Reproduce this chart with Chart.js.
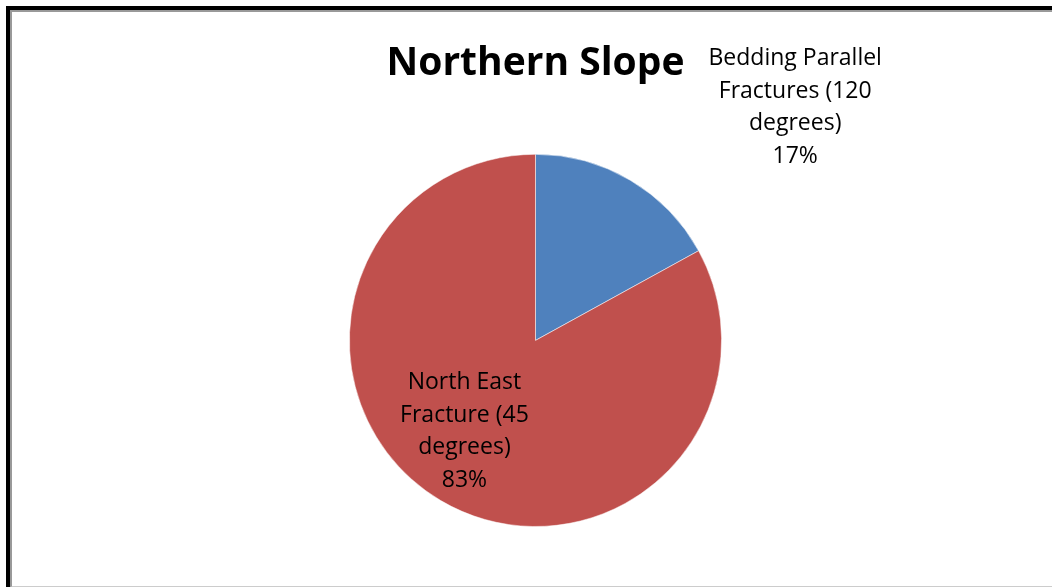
<!DOCTYPE html>
<html>
<head>
<meta charset="utf-8">
<script src="https://cdn.jsdelivr.net/npm/chart.js@4"></script>
<style>
  html, body { margin: 0; padding: 0; background: #fff; }
  #frame { position: absolute; left: 0; top: 0; width: 1052px; height: 587px; overflow: hidden; }
  #outer { position: absolute; left: 6px; top: 6px; right: -10px; bottom: -10px;
           border-left: 4px solid #000; border-top: 4px solid #000; }
  #inner { position: absolute; left: 10px; top: 10px; right: -10px; height: 574px;
           border-left: 2px solid #999; border-top: 2px solid #999; border-bottom: 2px solid #ccc; }
  #chart { position: absolute; left: 0; top: 0; }
</style>
</head>
<body>
<div id="frame">
  <div id="outer"></div>
  <div id="inner"></div>
  <canvas id="chart" width="1052" height="587"></canvas>
</div>
<script>
const chartTitle = 'Northern Slope';
const categories = [
  ['Bedding Parallel', 'Fractures (120', 'degrees)'],
  ['North East', 'Fracture (45', 'degrees)']
];
const percentages = [17, 83];
const sliceColors = ['#4F81BD', '#C0504D'];

// where each label sits: angle from top (clockwise) and distance in radii
const labelPlacement = [
  { angle: 48.1, dist: 1.875 },
  { angle: 218.0, dist: 0.62 }
];

const sliceLabels = {
  id: 'sliceLabels',
  afterDatasetsDraw(chart) {
    const ctx = chart.ctx;
    const meta = chart.getDatasetMeta(0);
    ctx.save();
    ctx.font = '23px "Open Sans", sans-serif';
    ctx.fillStyle = '#000';
    ctx.textAlign = 'center';
    ctx.textBaseline = 'middle';
    meta.data.forEach((arc, i) => {
      const p = labelPlacement[i];
      const a = p.angle * Math.PI / 180;
      const cx = arc.x + Math.sin(a) * arc.outerRadius * p.dist;
      const cy = arc.y - Math.cos(a) * arc.outerRadius * p.dist;
      const lines = categories[i].concat([percentages[i] + '%']);
      const lh = 32.5;
      lines.forEach((t, k) => {
        ctx.fillText(t, cx, cy + (k - (lines.length - 1) / 2) * lh);
      });
    });
    ctx.restore();
  }
};

new Chart(document.getElementById('chart'), {
  type: 'pie',
  data: {
    labels: categories.map(c => c.join(' ')),
    datasets: [{
      data: percentages,
      backgroundColor: sliceColors,
      borderColor: 'rgba(255,255,255,0.5)',
      borderWidth: 1
    }]
  },
  options: {
    responsive: false,
    devicePixelRatio: 1,
    animation: false,
    layout: { padding: { left: 19, right: 0, top: 0, bottom: 60 } },
    plugins: {
      legend: { display: false },
      tooltip: { enabled: false },
      title: {
        display: true,
        text: chartTitle,
        color: '#000',
        font: { family: '"Open Sans", sans-serif', size: 39, weight: 'bold' },
        padding: { top: 40, bottom: 67 }
      }
    }
  },
  plugins: [sliceLabels]
});
</script>
</body>
</html>
